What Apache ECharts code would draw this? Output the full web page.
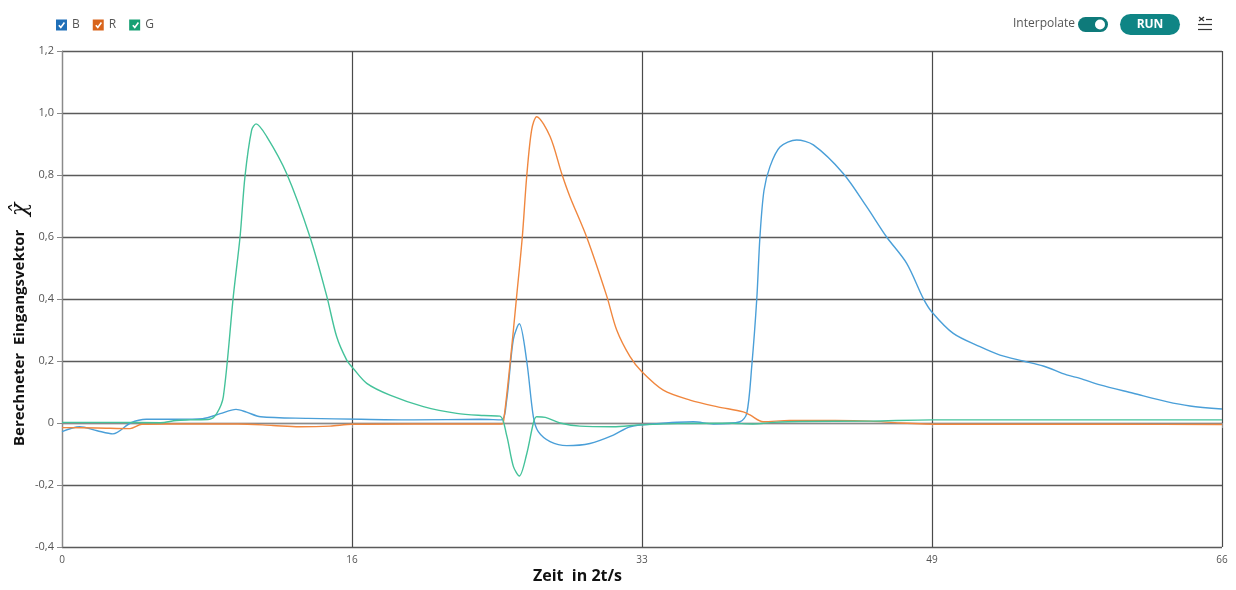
<!DOCTYPE html>
<html>
<head>
<meta charset="utf-8">
<script src="https://cdn.jsdelivr.net/npm/echarts@6/dist/echarts.min.js"></script>
<style>html,body{margin:0;padding:0;background:#fff;}#c{width:1236px;height:590px;}</style>
</head>
<body>
<div id="c"></div>
<script>
var seriesNames = ['B', 'R', 'G'];
var xTicks = [0, 16, 33, 49, 66];
var yTicks = ['-0,4', '-0,2', '0', '0,2', '0,4', '0,6', '0,8', '1,0', '1,2'];

var bX = [0, 1.0, 2.0, 2.9, 3.9, 4.8, 6.5, 8.0, 9.0, 9.9, 10.5, 11.3, 14, 17, 20, 23.8, 25.0, 25.3, 25.68, 26.02, 26.44, 26.82, 27.1, 27.77, 28.72, 30.04, 31.37, 32.32, 33.64, 35.92, 37.06, 38.58, 38.96, 39.24, 39.53, 39.71, 39.94, 40.28, 40.85, 41.8, 42.75, 44.45, 45.78, 46.92, 48.06, 49.0, 49.48, 50.71, 52.23, 53.37, 54.69, 55.83, 57.16, 57.92, 59.06, 60.95, 62.85, 64.18, 66];
var bY = [-0.028, -0.012, -0.025, -0.035, 0.0, 0.012, 0.012, 0.014, 0.03, 0.044, 0.035, 0.02, 0.015, 0.012, 0.01, 0.012, 0.01, 0.074, 0.27, 0.32, 0.2, 0.02, -0.028, -0.06, -0.073, -0.066, -0.039, -0.012, -0.003, 0.004, -0.003, 0.004, 0.031, 0.18, 0.40, 0.60, 0.75, 0.827, 0.89, 0.913, 0.897, 0.805, 0.698, 0.60, 0.515, 0.402, 0.359, 0.289, 0.246, 0.219, 0.2, 0.184, 0.155, 0.144, 0.123, 0.096, 0.069, 0.055, 0.045];

var rX = [0, 2, 3.87, 4.55, 6, 10, 12, 13.5, 15.25, 16.5, 20, 25.0, 25.11, 25.49, 25.87, 26.19, 26.44, 26.72, 27.01, 27.77, 28.43, 28.9, 29.85, 30.99, 31.56, 32.32, 32.98, 34.21, 35.73, 37.25, 38.76, 39.14, 39.9, 41.4, 44, 46, 47.7, 50, 55, 60, 66];
var rY = [-0.015, -0.016, -0.018, -0.004, -0.003, -0.003, -0.008, -0.012, -0.01, -0.004, -0.003, -0.003, 0.0, 0.19, 0.41, 0.6, 0.795, 0.945, 0.988, 0.924, 0.805, 0.73, 0.6, 0.41, 0.3, 0.214, 0.166, 0.106, 0.074, 0.053, 0.036, 0.026, 0.004, 0.008, 0.008, 0.006, 0.0, -0.004, -0.004, -0.004, -0.005];

var gX = [0, 3, 5.6, 6.5, 7.3, 8.4, 8.8, 9.18, 9.75, 10.13, 10.41, 10.79, 11.04, 11.65, 12.78, 14.11, 15.06, 15.63, 16.2, 16.57, 17.34, 18.66, 20.56, 22.46, 24.0, 24.92, 25.3, 25.68, 26.02, 26.44, 26.82, 27.0, 27.5, 28.33, 29.47, 31.35, 32.9, 35, 38, 39.3, 40.5, 42, 46, 49.5, 55, 60, 66];
var gY = [0.002, 0.002, 0.001, 0.008, 0.01, 0.012, 0.03, 0.085, 0.41, 0.6, 0.795, 0.945, 0.965, 0.924, 0.805, 0.6, 0.41, 0.278, 0.203, 0.176, 0.128, 0.09, 0.053, 0.031, 0.024, 0.022, -0.04, -0.14, -0.171, -0.1, 0.0, 0.02, 0.018, 0.0, -0.01, -0.012, -0.006, -0.002, -0.001, -0.003, 0.002, 0.005, 0.006, 0.01, 0.01, 0.01, 0.01];

function pairs(xs, ys) { return xs.map(function (x, i) { return [x, ys[i]]; }); }

var legendColors = ['#1f6fb8', '#d8651d', '#17a074'];
var lineColors = ['#4a9fd8', '#f0873f', '#44c29a'];
var dataSets = [pairs(bX, bY), pairs(rX, rY), pairs(gX, gY)];

var chart = echarts.init(document.getElementById('c'));

var series = seriesNames.map(function (n, i) {
  return {
    name: n, type: 'line', data: dataSets[i], showSymbol: false, smooth: 0.3,
    itemStyle: { color: legendColors[i] },
    lineStyle: { color: lineColors[i], width: 1.4 },
    z: 3 + i
  };
});

var checks = [56, 93, 130].map(function (x) {
  return {
    type: 'polyline', z: 100,
    shape: { points: [[x + 2.8, 25.2], [x + 4.8, 27.4], [x + 8.4, 22.6]] },
    style: { stroke: '#fff', lineWidth: 1.6, fill: null }
  };
});

chart.setOption({
  animation: false,
  backgroundColor: '#fff',
  grid: { left: 62, right: 14, top: 51, bottom: 43 },
  legend: {
    left: 56, top: 19, padding: 0, itemWidth: 11, itemHeight: 11, itemGap: 13, icon: 'rect',
    textStyle: { fontFamily: 'Open Sans', fontSize: 12, color: '#555' },
    data: seriesNames
  },
  xAxis: {
    type: 'value', min: 0, max: 66, interval: 16.5,
    axisLine: { lineStyle: { color: '#8a8a8a', width: 1.2 } },
    axisTick: { show: true, length: 5, lineStyle: { color: '#8a8a8a' } },
    axisLabel: { fontFamily: 'Open Sans', fontSize: 10, color: '#555', margin: 8,
      formatter: function (v) { return String(Math.floor(v)); } },
    splitLine: { show: true, lineStyle: { color: '#4a4a4a', width: 1.2 } }
  },
  yAxis: {
    type: 'value', min: -0.4, max: 1.2, interval: 0.2,
    axisLine: { show: true, lineStyle: { color: '#8a8a8a', width: 1.2 } },
    axisTick: { show: true, length: 5, lineStyle: { color: '#8a8a8a' } },
    axisLabel: { fontFamily: 'Open Sans', fontSize: 11, color: '#555', margin: 8,
      formatter: function (v) { var k = Math.round((v + 0.4) / 0.2); return yTicks[k]; } },
    splitLine: { show: true, lineStyle: { color: '#5a5a5a', width: 1.4 } }
  },
  series: series,
  graphic: checks.concat([
    { type: 'text', left: 533, top: 568, z: 100,
      style: { text: 'Zeit  in 2t/s', font: 'bold 16px "Open Sans"', fill: '#111' } },
    { type: 'text', x: 12, y: 446, rotation: Math.PI / 2, z: 100,
      style: { text: 'Berechneter  Eingangsvektor', font: 'bold 15px "Open Sans"', fill: '#111', verticalAlign: 'top' } },
    { type: 'text', x: 9, y: 216, rotation: Math.PI / 2, z: 100,
      style: { text: '\u03C7\u0302', font: 'italic 22px "DejaVu Serif"', fill: '#111', verticalAlign: 'top' } },
    { type: 'text', left: 1013, top: 18, z: 100,
      style: { text: 'Interpolate', font: '12px "Open Sans"', fill: '#555' } },
    { type: 'rect', shape: { x: 1078, y: 17, width: 30, height: 15, r: 7.5 }, style: { fill: '#0e7a7a' }, z: 100 },
    { type: 'circle', shape: { cx: 1100, cy: 24.5, r: 5 }, style: { fill: '#fff' }, z: 101 },
    { type: 'rect', shape: { x: 1120, y: 14, width: 60, height: 21, r: 10.5 }, style: { fill: '#0f8585' }, z: 100 },
    { type: 'text', x: 1150, y: 24.5, z: 101,
      style: { text: 'RUN', font: 'bold 12px "Open Sans"', fill: '#fff', align: 'center', verticalAlign: 'middle' } },
    { type: 'line', shape: { x1: 1199, y1: 17, x2: 1204, y2: 21 }, style: { stroke: '#333', lineWidth: 1.2 }, z: 100 },
    { type: 'line', shape: { x1: 1204, y1: 17, x2: 1199, y2: 21 }, style: { stroke: '#333', lineWidth: 1.2 }, z: 100 },
    { type: 'line', shape: { x1: 1206, y1: 19.5, x2: 1212, y2: 19.5 }, style: { stroke: '#333', lineWidth: 1.2 }, z: 100 },
    { type: 'line', shape: { x1: 1198, y1: 24.5, x2: 1212, y2: 24.5 }, style: { stroke: '#333', lineWidth: 1.2 }, z: 100 },
    { type: 'line', shape: { x1: 1198, y1: 29.5, x2: 1212, y2: 29.5 }, style: { stroke: '#333', lineWidth: 1.2 }, z: 100 }
  ])
});
</script>
</body>
</html>
